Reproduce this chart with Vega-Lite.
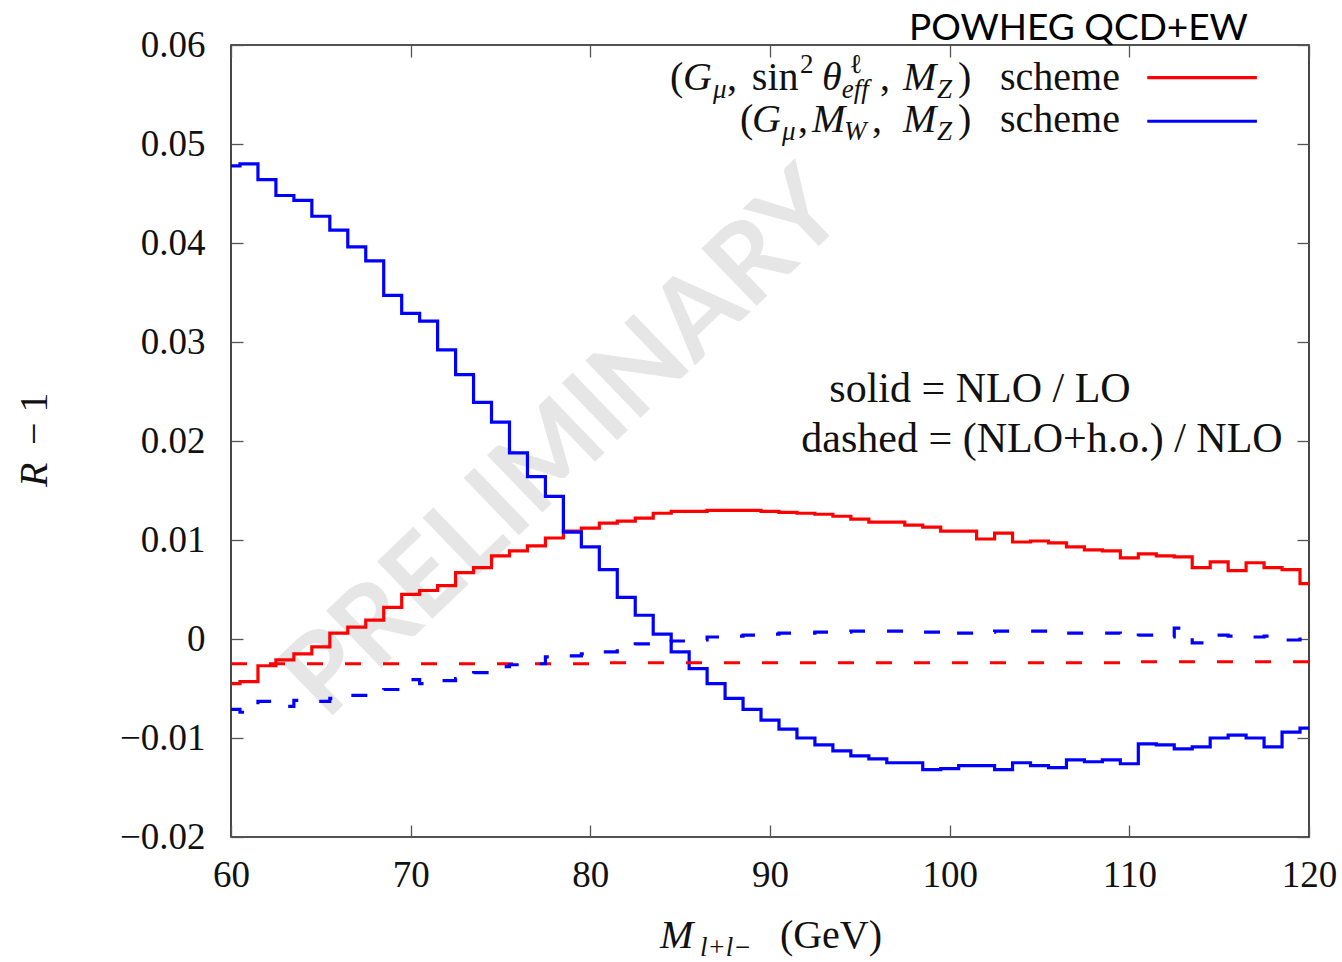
{
  "$schema": "https://vega.github.io/schema/vega-lite/v6.json",
  "width": 1078,
  "height": 792,
  "autosize": "none",
  "padding": {"left": 231, "top": 45, "right": 33, "bottom": 125},
  "background": "white",
  "config": {
    "view": {"stroke": "#1a1a1a", "strokeWidth": 1.6},
    "axis": {
      "grid": false,
      "domain": false,
      "tickColor": "#555555",
      "tickWidth": 1.3,
      "tickSize": 12,
      "offset": -12,
      "labelFont": "Liberation Serif",
      "labelFontSize": 37,
      "labelColor": "#111111",
      "labelFlush": false,
      "labelOverlap": false,
      "labelBound": false
    }
  },
  "datasets": {
    "curves": [
      {"mll":60,"dr":-0.0045,"scheme":"sw","ratio":"nlo"},{"mll":61,"dr":-0.0043,"scheme":"sw","ratio":"nlo"},{"mll":62,"dr":-0.0027,"scheme":"sw","ratio":"nlo"},{"mll":63,"dr":-0.0021,"scheme":"sw","ratio":"nlo"},{"mll":64,"dr":-0.0015,"scheme":"sw","ratio":"nlo"},{"mll":65,"dr":-0.0008,"scheme":"sw","ratio":"nlo"},{"mll":66,"dr":0.0006,"scheme":"sw","ratio":"nlo"},{"mll":67,"dr":0.0012,"scheme":"sw","ratio":"nlo"},{"mll":68,"dr":0.0019,"scheme":"sw","ratio":"nlo"},{"mll":69,"dr":0.0032,"scheme":"sw","ratio":"nlo"},
      {"mll":70,"dr":0.0045,"scheme":"sw","ratio":"nlo"},{"mll":71,"dr":0.0049,"scheme":"sw","ratio":"nlo"},{"mll":72,"dr":0.0054,"scheme":"sw","ratio":"nlo"},{"mll":73,"dr":0.0067,"scheme":"sw","ratio":"nlo"},{"mll":74,"dr":0.0072,"scheme":"sw","ratio":"nlo"},{"mll":75,"dr":0.0084,"scheme":"sw","ratio":"nlo"},{"mll":76,"dr":0.0089,"scheme":"sw","ratio":"nlo"},{"mll":77,"dr":0.0094,"scheme":"sw","ratio":"nlo"},{"mll":78,"dr":0.0102,"scheme":"sw","ratio":"nlo"},{"mll":79,"dr":0.0109,"scheme":"sw","ratio":"nlo"},
      {"mll":80,"dr":0.0112,"scheme":"sw","ratio":"nlo"},{"mll":81,"dr":0.0117,"scheme":"sw","ratio":"nlo"},{"mll":82,"dr":0.0119,"scheme":"sw","ratio":"nlo"},{"mll":83,"dr":0.0122,"scheme":"sw","ratio":"nlo"},{"mll":84,"dr":0.0127,"scheme":"sw","ratio":"nlo"},{"mll":85,"dr":0.0129,"scheme":"sw","ratio":"nlo"},{"mll":86,"dr":0.0129,"scheme":"sw","ratio":"nlo"},{"mll":87,"dr":0.0130,"scheme":"sw","ratio":"nlo"},{"mll":88,"dr":0.0130,"scheme":"sw","ratio":"nlo"},{"mll":89,"dr":0.0130,"scheme":"sw","ratio":"nlo"},
      {"mll":90,"dr":0.0129,"scheme":"sw","ratio":"nlo"},{"mll":91,"dr":0.0128,"scheme":"sw","ratio":"nlo"},{"mll":92,"dr":0.0127,"scheme":"sw","ratio":"nlo"},{"mll":93,"dr":0.0126,"scheme":"sw","ratio":"nlo"},{"mll":94,"dr":0.0124,"scheme":"sw","ratio":"nlo"},{"mll":95,"dr":0.0121,"scheme":"sw","ratio":"nlo"},{"mll":96,"dr":0.0118,"scheme":"sw","ratio":"nlo"},{"mll":97,"dr":0.0118,"scheme":"sw","ratio":"nlo"},{"mll":98,"dr":0.0115,"scheme":"sw","ratio":"nlo"},{"mll":99,"dr":0.0113,"scheme":"sw","ratio":"nlo"},
      {"mll":100,"dr":0.0109,"scheme":"sw","ratio":"nlo"},{"mll":101,"dr":0.0109,"scheme":"sw","ratio":"nlo"},{"mll":102,"dr":0.0101,"scheme":"sw","ratio":"nlo"},{"mll":103,"dr":0.0107,"scheme":"sw","ratio":"nlo"},{"mll":104,"dr":0.0098,"scheme":"sw","ratio":"nlo"},{"mll":105,"dr":0.0099,"scheme":"sw","ratio":"nlo"},{"mll":106,"dr":0.0097,"scheme":"sw","ratio":"nlo"},{"mll":107,"dr":0.0093,"scheme":"sw","ratio":"nlo"},{"mll":108,"dr":0.0090,"scheme":"sw","ratio":"nlo"},{"mll":109,"dr":0.0089,"scheme":"sw","ratio":"nlo"},
      {"mll":110,"dr":0.0082,"scheme":"sw","ratio":"nlo"},{"mll":111,"dr":0.0086,"scheme":"sw","ratio":"nlo"},{"mll":112,"dr":0.0084,"scheme":"sw","ratio":"nlo"},{"mll":113,"dr":0.0083,"scheme":"sw","ratio":"nlo"},{"mll":114,"dr":0.0072,"scheme":"sw","ratio":"nlo"},{"mll":115,"dr":0.0078,"scheme":"sw","ratio":"nlo"},{"mll":116,"dr":0.0069,"scheme":"sw","ratio":"nlo"},{"mll":117,"dr":0.0077,"scheme":"sw","ratio":"nlo"},{"mll":118,"dr":0.0072,"scheme":"sw","ratio":"nlo"},{"mll":119,"dr":0.0070,"scheme":"sw","ratio":"nlo"},
      {"mll":120,"dr":0.0056,"scheme":"sw","ratio":"nlo"},

      {"mll":60,"dr":0.0478,"scheme":"mw","ratio":"nlo"},{"mll":61,"dr":0.0480,"scheme":"mw","ratio":"nlo"},{"mll":62,"dr":0.0464,"scheme":"mw","ratio":"nlo"},{"mll":63,"dr":0.0448,"scheme":"mw","ratio":"nlo"},{"mll":64,"dr":0.0443,"scheme":"mw","ratio":"nlo"},{"mll":65,"dr":0.0427,"scheme":"mw","ratio":"nlo"},{"mll":66,"dr":0.0413,"scheme":"mw","ratio":"nlo"},{"mll":67,"dr":0.0396,"scheme":"mw","ratio":"nlo"},{"mll":68,"dr":0.0382,"scheme":"mw","ratio":"nlo"},{"mll":69,"dr":0.0347,"scheme":"mw","ratio":"nlo"},
      {"mll":70,"dr":0.0329,"scheme":"mw","ratio":"nlo"},{"mll":71,"dr":0.0321,"scheme":"mw","ratio":"nlo"},{"mll":72,"dr":0.0292,"scheme":"mw","ratio":"nlo"},{"mll":73,"dr":0.0267,"scheme":"mw","ratio":"nlo"},{"mll":74,"dr":0.0239,"scheme":"mw","ratio":"nlo"},{"mll":75,"dr":0.0219,"scheme":"mw","ratio":"nlo"},{"mll":76,"dr":0.0188,"scheme":"mw","ratio":"nlo"},{"mll":77,"dr":0.0164,"scheme":"mw","ratio":"nlo"},{"mll":78,"dr":0.0144,"scheme":"mw","ratio":"nlo"},{"mll":79,"dr":0.0108,"scheme":"mw","ratio":"nlo"},
      {"mll":80,"dr":0.0093,"scheme":"mw","ratio":"nlo"},{"mll":81,"dr":0.0070,"scheme":"mw","ratio":"nlo"},{"mll":82,"dr":0.0042,"scheme":"mw","ratio":"nlo"},{"mll":83,"dr":0.0024,"scheme":"mw","ratio":"nlo"},{"mll":84,"dr":0.0005,"scheme":"mw","ratio":"nlo"},{"mll":85,"dr":-0.0013,"scheme":"mw","ratio":"nlo"},{"mll":86,"dr":-0.0030,"scheme":"mw","ratio":"nlo"},{"mll":87,"dr":-0.0045,"scheme":"mw","ratio":"nlo"},{"mll":88,"dr":-0.0060,"scheme":"mw","ratio":"nlo"},{"mll":89,"dr":-0.0071,"scheme":"mw","ratio":"nlo"},
      {"mll":90,"dr":-0.0082,"scheme":"mw","ratio":"nlo"},{"mll":91,"dr":-0.0091,"scheme":"mw","ratio":"nlo"},{"mll":92,"dr":-0.0100,"scheme":"mw","ratio":"nlo"},{"mll":93,"dr":-0.0107,"scheme":"mw","ratio":"nlo"},{"mll":94,"dr":-0.0113,"scheme":"mw","ratio":"nlo"},{"mll":95,"dr":-0.0118,"scheme":"mw","ratio":"nlo"},{"mll":96,"dr":-0.0121,"scheme":"mw","ratio":"nlo"},{"mll":97,"dr":-0.0125,"scheme":"mw","ratio":"nlo"},{"mll":98,"dr":-0.0125,"scheme":"mw","ratio":"nlo"},{"mll":99,"dr":-0.0132,"scheme":"mw","ratio":"nlo"},
      {"mll":100,"dr":-0.0131,"scheme":"mw","ratio":"nlo"},{"mll":101,"dr":-0.0128,"scheme":"mw","ratio":"nlo"},{"mll":102,"dr":-0.0128,"scheme":"mw","ratio":"nlo"},{"mll":103,"dr":-0.0132,"scheme":"mw","ratio":"nlo"},{"mll":104,"dr":-0.0125,"scheme":"mw","ratio":"nlo"},{"mll":105,"dr":-0.0128,"scheme":"mw","ratio":"nlo"},{"mll":106,"dr":-0.0130,"scheme":"mw","ratio":"nlo"},{"mll":107,"dr":-0.0122,"scheme":"mw","ratio":"nlo"},{"mll":108,"dr":-0.0124,"scheme":"mw","ratio":"nlo"},{"mll":109,"dr":-0.0122,"scheme":"mw","ratio":"nlo"},
      {"mll":110,"dr":-0.0126,"scheme":"mw","ratio":"nlo"},{"mll":111,"dr":-0.0106,"scheme":"mw","ratio":"nlo"},{"mll":112,"dr":-0.0107,"scheme":"mw","ratio":"nlo"},{"mll":113,"dr":-0.0111,"scheme":"mw","ratio":"nlo"},{"mll":114,"dr":-0.0109,"scheme":"mw","ratio":"nlo"},{"mll":115,"dr":-0.0100,"scheme":"mw","ratio":"nlo"},{"mll":116,"dr":-0.0097,"scheme":"mw","ratio":"nlo"},{"mll":117,"dr":-0.0100,"scheme":"mw","ratio":"nlo"},{"mll":118,"dr":-0.0109,"scheme":"mw","ratio":"nlo"},{"mll":119,"dr":-0.0094,"scheme":"mw","ratio":"nlo"},
      {"mll":120,"dr":-0.0090,"scheme":"mw","ratio":"nlo"},

      {"mll":60,"dr":-0.0025,"scheme":"sw","ratio":"ho"},{"mll":61,"dr":-0.0025,"scheme":"sw","ratio":"ho"},{"mll":62,"dr":-0.0025,"scheme":"sw","ratio":"ho"},{"mll":63,"dr":-0.0025,"scheme":"sw","ratio":"ho"},{"mll":64,"dr":-0.0025,"scheme":"sw","ratio":"ho"},{"mll":65,"dr":-0.0025,"scheme":"sw","ratio":"ho"},{"mll":66,"dr":-0.0025,"scheme":"sw","ratio":"ho"},{"mll":67,"dr":-0.0025,"scheme":"sw","ratio":"ho"},{"mll":68,"dr":-0.0025,"scheme":"sw","ratio":"ho"},{"mll":69,"dr":-0.0025,"scheme":"sw","ratio":"ho"},
      {"mll":70,"dr":-0.0025,"scheme":"sw","ratio":"ho"},{"mll":71,"dr":-0.0025,"scheme":"sw","ratio":"ho"},{"mll":72,"dr":-0.0025,"scheme":"sw","ratio":"ho"},{"mll":73,"dr":-0.0025,"scheme":"sw","ratio":"ho"},{"mll":74,"dr":-0.0025,"scheme":"sw","ratio":"ho"},{"mll":75,"dr":-0.0025,"scheme":"sw","ratio":"ho"},{"mll":76,"dr":-0.0025,"scheme":"sw","ratio":"ho"},{"mll":77,"dr":-0.0025,"scheme":"sw","ratio":"ho"},{"mll":78,"dr":-0.0025,"scheme":"sw","ratio":"ho"},{"mll":79,"dr":-0.0025,"scheme":"sw","ratio":"ho"},
      {"mll":80,"dr":-0.0025,"scheme":"sw","ratio":"ho"},{"mll":81,"dr":-0.0024,"scheme":"sw","ratio":"ho"},{"mll":82,"dr":-0.0024,"scheme":"sw","ratio":"ho"},{"mll":83,"dr":-0.0024,"scheme":"sw","ratio":"ho"},{"mll":84,"dr":-0.0024,"scheme":"sw","ratio":"ho"},{"mll":85,"dr":-0.0024,"scheme":"sw","ratio":"ho"},{"mll":86,"dr":-0.0024,"scheme":"sw","ratio":"ho"},{"mll":87,"dr":-0.0024,"scheme":"sw","ratio":"ho"},{"mll":88,"dr":-0.0024,"scheme":"sw","ratio":"ho"},{"mll":89,"dr":-0.0024,"scheme":"sw","ratio":"ho"},
      {"mll":90,"dr":-0.0024,"scheme":"sw","ratio":"ho"},{"mll":91,"dr":-0.0024,"scheme":"sw","ratio":"ho"},{"mll":92,"dr":-0.0024,"scheme":"sw","ratio":"ho"},{"mll":93,"dr":-0.0024,"scheme":"sw","ratio":"ho"},{"mll":94,"dr":-0.0024,"scheme":"sw","ratio":"ho"},{"mll":95,"dr":-0.0024,"scheme":"sw","ratio":"ho"},{"mll":96,"dr":-0.0024,"scheme":"sw","ratio":"ho"},{"mll":97,"dr":-0.0024,"scheme":"sw","ratio":"ho"},{"mll":98,"dr":-0.0024,"scheme":"sw","ratio":"ho"},{"mll":99,"dr":-0.0024,"scheme":"sw","ratio":"ho"},
      {"mll":100,"dr":-0.0024,"scheme":"sw","ratio":"ho"},{"mll":101,"dr":-0.0024,"scheme":"sw","ratio":"ho"},{"mll":102,"dr":-0.0024,"scheme":"sw","ratio":"ho"},{"mll":103,"dr":-0.0024,"scheme":"sw","ratio":"ho"},{"mll":104,"dr":-0.0024,"scheme":"sw","ratio":"ho"},{"mll":105,"dr":-0.0024,"scheme":"sw","ratio":"ho"},{"mll":106,"dr":-0.0024,"scheme":"sw","ratio":"ho"},{"mll":107,"dr":-0.0024,"scheme":"sw","ratio":"ho"},{"mll":108,"dr":-0.0024,"scheme":"sw","ratio":"ho"},{"mll":109,"dr":-0.0024,"scheme":"sw","ratio":"ho"},
      {"mll":110,"dr":-0.0024,"scheme":"sw","ratio":"ho"},{"mll":111,"dr":-0.0023,"scheme":"sw","ratio":"ho"},{"mll":112,"dr":-0.0023,"scheme":"sw","ratio":"ho"},{"mll":113,"dr":-0.0023,"scheme":"sw","ratio":"ho"},{"mll":114,"dr":-0.0023,"scheme":"sw","ratio":"ho"},{"mll":115,"dr":-0.0023,"scheme":"sw","ratio":"ho"},{"mll":116,"dr":-0.0023,"scheme":"sw","ratio":"ho"},{"mll":117,"dr":-0.0023,"scheme":"sw","ratio":"ho"},{"mll":118,"dr":-0.0023,"scheme":"sw","ratio":"ho"},{"mll":119,"dr":-0.0023,"scheme":"sw","ratio":"ho"},
      {"mll":120,"dr":-0.0023,"scheme":"sw","ratio":"ho"},

      {"mll":60,"dr":-0.0071,"scheme":"mw","ratio":"ho"},{"mll":61,"dr":-0.0074,"scheme":"mw","ratio":"ho"},{"mll":62,"dr":-0.0063,"scheme":"mw","ratio":"ho"},{"mll":63,"dr":-0.0068,"scheme":"mw","ratio":"ho"},{"mll":64,"dr":-0.0062,"scheme":"mw","ratio":"ho"},{"mll":65,"dr":-0.0063,"scheme":"mw","ratio":"ho"},{"mll":66,"dr":-0.0060,"scheme":"mw","ratio":"ho"},{"mll":67,"dr":-0.0057,"scheme":"mw","ratio":"ho"},{"mll":68,"dr":-0.0054,"scheme":"mw","ratio":"ho"},{"mll":69,"dr":-0.0051,"scheme":"mw","ratio":"ho"},
      {"mll":70,"dr":-0.0041,"scheme":"mw","ratio":"ho"},{"mll":71,"dr":-0.0045,"scheme":"mw","ratio":"ho"},{"mll":72,"dr":-0.0042,"scheme":"mw","ratio":"ho"},{"mll":73,"dr":-0.0040,"scheme":"mw","ratio":"ho"},{"mll":74,"dr":-0.0034,"scheme":"mw","ratio":"ho"},{"mll":75,"dr":-0.0028,"scheme":"mw","ratio":"ho"},{"mll":76,"dr":-0.0026,"scheme":"mw","ratio":"ho"},{"mll":77,"dr":-0.0025,"scheme":"mw","ratio":"ho"},{"mll":78,"dr":-0.0018,"scheme":"mw","ratio":"ho"},{"mll":79,"dr":-0.0017,"scheme":"mw","ratio":"ho"},
      {"mll":80,"dr":-0.0015,"scheme":"mw","ratio":"ho"},{"mll":81,"dr":-0.0013,"scheme":"mw","ratio":"ho"},{"mll":82,"dr":-0.0008,"scheme":"mw","ratio":"ho"},{"mll":83,"dr":-0.0005,"scheme":"mw","ratio":"ho"},{"mll":84,"dr":-0.0003,"scheme":"mw","ratio":"ho"},{"mll":85,"dr":-0.0002,"scheme":"mw","ratio":"ho"},{"mll":86,"dr":-0.0001,"scheme":"mw","ratio":"ho"},{"mll":87,"dr":0.0002,"scheme":"mw","ratio":"ho"},{"mll":88,"dr":0.0003,"scheme":"mw","ratio":"ho"},{"mll":89,"dr":0.0004,"scheme":"mw","ratio":"ho"},
      {"mll":90,"dr":0.0005,"scheme":"mw","ratio":"ho"},{"mll":91,"dr":0.0006,"scheme":"mw","ratio":"ho"},{"mll":92,"dr":0.0006,"scheme":"mw","ratio":"ho"},{"mll":93,"dr":0.0007,"scheme":"mw","ratio":"ho"},{"mll":94,"dr":0.0007,"scheme":"mw","ratio":"ho"},{"mll":95,"dr":0.0008,"scheme":"mw","ratio":"ho"},{"mll":96,"dr":0.0008,"scheme":"mw","ratio":"ho"},{"mll":97,"dr":0.0008,"scheme":"mw","ratio":"ho"},{"mll":98,"dr":0.0008,"scheme":"mw","ratio":"ho"},{"mll":99,"dr":0.0007,"scheme":"mw","ratio":"ho"},
      {"mll":100,"dr":0.0009,"scheme":"mw","ratio":"ho"},{"mll":101,"dr":0.0006,"scheme":"mw","ratio":"ho"},{"mll":102,"dr":0.0007,"scheme":"mw","ratio":"ho"},{"mll":103,"dr":0.0008,"scheme":"mw","ratio":"ho"},{"mll":104,"dr":0.0008,"scheme":"mw","ratio":"ho"},{"mll":105,"dr":0.0008,"scheme":"mw","ratio":"ho"},{"mll":106,"dr":0.0006,"scheme":"mw","ratio":"ho"},{"mll":107,"dr":0.0006,"scheme":"mw","ratio":"ho"},{"mll":108,"dr":0.0006,"scheme":"mw","ratio":"ho"},{"mll":109,"dr":0.0006,"scheme":"mw","ratio":"ho"},
      {"mll":110,"dr":0.0002,"scheme":"mw","ratio":"ho"},{"mll":111,"dr":0.0004,"scheme":"mw","ratio":"ho"},{"mll":112,"dr":0.0002,"scheme":"mw","ratio":"ho"},{"mll":113,"dr":0.0011,"scheme":"mw","ratio":"ho"},{"mll":114,"dr":-0.0004,"scheme":"mw","ratio":"ho"},{"mll":115,"dr":0.0004,"scheme":"mw","ratio":"ho"},{"mll":116,"dr":0.0003,"scheme":"mw","ratio":"ho"},{"mll":117,"dr":0.0002,"scheme":"mw","ratio":"ho"},{"mll":118,"dr":0.0003,"scheme":"mw","ratio":"ho"},{"mll":119,"dr":-0.0001,"scheme":"mw","ratio":"ho"},
      {"mll":120,"dr":0.0000,"scheme":"mw","ratio":"ho"}
    ],
    "mathUpright": [
      {"x":84.43,"y":0.05545,"t":"("},
      {"x":87.61,"y":0.05545,"t":","},
      {"x":88.99,"y":0.05545,"t":"sin"},
      {"x":96.12,"y":0.05545,"t":","},
      {"x":100.46,"y":0.05545,"t":")"},
      {"x":102.80,"y":0.05545,"t":"scheme"},
      {"x":88.33,"y":0.05121,"t":"("},
      {"x":91.56,"y":0.05121,"t":","},
      {"x":95.68,"y":0.05121,"t":","},
      {"x":100.46,"y":0.05121,"t":")"},
      {"x":102.80,"y":0.05121,"t":"scheme"},
      {"x":90.55,"y":-0.03121,"t":"(GeV)"}
    ],
    "mathItalic": [
      {"x":85.16,"y":0.05545,"t":"G"},
      {"x":92.89,"y":0.05545,"t":"θ"},
      {"x":97.40,"y":0.05545,"t":"M"},
      {"x":89.00,"y":0.05121,"t":"G"},
      {"x":92.34,"y":0.05121,"t":"M"},
      {"x":97.40,"y":0.05121,"t":"M"},
      {"x":83.88,"y":-0.03121,"t":"M"}
    ],
    "mathSub": [
      {"x":86.83,"y":0.05545,"t":"μ"},
      {"x":94.00,"y":0.05545,"t":"eff"},
      {"x":99.29,"y":0.05545,"t":"Z"},
      {"x":90.67,"y":0.05121,"t":"μ"},
      {"x":94.12,"y":0.05121,"t":"W"},
      {"x":99.29,"y":0.05121,"t":"Z"},
      {"x":86.10,"y":-0.03121,"t":"l+l−"}
    ],
    "mathSup": [
      {"x":91.67,"y":0.05545,"t":"2"},
      {"x":94.42,"y":0.05545,"t":"ℓ"}
    ],
    "notes": [
      {"x":101.69,"y":0.02394,"t":"solid = NLO / LO"},
      {"x":105.14,"y":0.01889,"t":"dashed = (NLO+h.o.) / NLO"}
    ]
  },
  "layer": [
    {
      "data": {"values": [{"x": 78.59, "y": 0.0196, "t": "PRELIMINARY"}]},
      "mark": {"type": "text", "font": "Lato", "fontWeight": "bold", "fontSize": 110, "angle": -44, "align": "center", "baseline": "middle", "color": "#e6e6e6"},
      "encoding": {
        "x": {"field": "x", "type": "quantitative", "scale": {"domain": [60, 120], "nice": false, "zero": false}, "axis": null},
        "y": {"field": "y", "type": "quantitative", "scale": {"domain": [-0.02, 0.06], "nice": false, "zero": false}, "axis": null},
        "text": {"field": "t"}
      }
    },
    {
      "data": {"name": "curves"},
      "mark": {"type": "line", "interpolate": "step", "strokeWidth": 3.2, "strokeCap": "butt", "strokeJoin": "miter"},
      "encoding": {
        "x": {"field": "mll", "type": "quantitative", "scale": {"domain": [60, 120], "nice": false, "zero": false},
              "axis": {"orient": "bottom", "values": [60, 70, 80, 90, 100, 110, 120], "title": null, "labelPadding": 20}},
        "y": {"field": "dr", "type": "quantitative", "scale": {"domain": [-0.02, 0.06], "nice": false, "zero": false},
              "axis": {"orient": "left", "values": [-0.02, -0.01, 0, 0.01, 0.02, 0.03, 0.04, 0.05, 0.06], "title": null, "labelPadding": 26,
                       "labelExpr": "datum.value === 0 ? '0' : replace(format(datum.value, '.2f'), '-', '−')"}},
        "color": {"field": "scheme", "type": "nominal", "scale": {"domain": ["sw", "mw"], "range": ["#ff0000", "#0000ff"]}, "legend": null},
        "strokeDash": {"field": "ratio", "type": "nominal", "scale": {"domain": ["nlo", "ho"], "range": [[1, 0], [16, 22]]}, "legend": null}
      }
    },
    {
      "data": {"name": "curves"},
      "mark": {"type": "point", "opacity": 0},
      "encoding": {
        "x": {"field": "mll", "type": "quantitative", "scale": {"domain": [60, 120], "nice": false, "zero": false},
              "axis": {"orient": "top", "values": [60, 70, 80, 90, 100, 110, 120], "labels": false, "title": null}},
        "y": {"field": "dr", "type": "quantitative", "scale": {"domain": [-0.02, 0.06], "nice": false, "zero": false},
              "axis": {"orient": "right", "values": [-0.02, -0.01, 0, 0.01, 0.02, 0.03, 0.04, 0.05, 0.06], "labels": false, "title": null}}
      }
    },
    {
      "data": {"values": [{}]},
      "mark": {"type": "rule", "color": "#ff0000", "strokeWidth": 3.2},
      "encoding": {
        "x": {"datum": 111.0, "type": "quantitative", "scale": {"domain": [60, 120], "nice": false, "zero": false}, "axis": null},
        "x2": {"datum": 117.1},
        "y": {"datum": 0.0567, "type": "quantitative", "scale": {"domain": [-0.02, 0.06], "nice": false, "zero": false}, "axis": null}
      }
    },
    {
      "data": {"values": [{}]},
      "mark": {"type": "rule", "color": "#0000ff", "strokeWidth": 3.2},
      "encoding": {
        "x": {"datum": 111.0, "type": "quantitative", "scale": {"domain": [60, 120], "nice": false, "zero": false}, "axis": null},
        "x2": {"datum": 117.1},
        "y": {"datum": 0.0523, "type": "quantitative", "scale": {"domain": [-0.02, 0.06], "nice": false, "zero": false}, "axis": null}
      }
    },
    {
      "data": {"name": "mathUpright"},
      "mark": {"type": "text", "font": "Liberation Serif", "fontSize": 40, "align": "left", "baseline": "alphabetic", "color": "#111111"},
      "encoding": {
        "x": {"field": "x", "type": "quantitative", "scale": {"domain": [60, 120], "nice": false, "zero": false}, "axis": null},
        "y": {"field": "y", "type": "quantitative", "scale": {"domain": [-0.02, 0.06], "nice": false, "zero": false}, "axis": null},
        "text": {"field": "t"}
      }
    },
    {
      "data": {"name": "mathItalic"},
      "mark": {"type": "text", "font": "Liberation Serif", "fontStyle": "italic", "fontSize": 40, "align": "left", "baseline": "alphabetic", "color": "#111111"},
      "encoding": {
        "x": {"field": "x", "type": "quantitative", "scale": {"domain": [60, 120], "nice": false, "zero": false}, "axis": null},
        "y": {"field": "y", "type": "quantitative", "scale": {"domain": [-0.02, 0.06], "nice": false, "zero": false}, "axis": null},
        "text": {"field": "t"}
      }
    },
    {
      "data": {"name": "mathSub"},
      "mark": {"type": "text", "font": "Liberation Serif", "fontStyle": "italic", "fontSize": 27, "dy": 8, "align": "left", "baseline": "alphabetic", "color": "#111111"},
      "encoding": {
        "x": {"field": "x", "type": "quantitative", "scale": {"domain": [60, 120], "nice": false, "zero": false}, "axis": null},
        "y": {"field": "y", "type": "quantitative", "scale": {"domain": [-0.02, 0.06], "nice": false, "zero": false}, "axis": null},
        "text": {"field": "t"}
      }
    },
    {
      "data": {"name": "mathSup"},
      "mark": {"type": "text", "font": "Liberation Serif", "fontSize": 27, "dy": -17, "align": "left", "baseline": "alphabetic", "color": "#111111"},
      "encoding": {
        "x": {"field": "x", "type": "quantitative", "scale": {"domain": [60, 120], "nice": false, "zero": false}, "axis": null},
        "y": {"field": "y", "type": "quantitative", "scale": {"domain": [-0.02, 0.06], "nice": false, "zero": false}, "axis": null},
        "text": {"field": "t"}
      }
    },
    {
      "data": {"name": "notes"},
      "mark": {"type": "text", "font": "Liberation Serif", "fontSize": 42, "align": "center", "baseline": "alphabetic", "color": "#111111"},
      "encoding": {
        "x": {"field": "x", "type": "quantitative", "scale": {"domain": [60, 120], "nice": false, "zero": false}, "axis": null},
        "y": {"field": "y", "type": "quantitative", "scale": {"domain": [-0.02, 0.06], "nice": false, "zero": false}, "axis": null},
        "text": {"field": "t"}
      }
    },
    {
      "data": {"values": [{"x": 116.6, "y": 0.0605, "t": "POWHEG QCD+EW"}]},
      "mark": {"type": "text", "font": "Lato", "fontSize": 37, "align": "right", "baseline": "alphabetic", "color": "#000000"},
      "encoding": {
        "x": {"field": "x", "type": "quantitative", "scale": {"domain": [60, 120], "nice": false, "zero": false}, "axis": null},
        "y": {"field": "y", "type": "quantitative", "scale": {"domain": [-0.02, 0.06], "nice": false, "zero": false}, "axis": null},
        "text": {"field": "t"}
      }
    },
    {
      "data": {"values": [{"x": 49.76, "y": 0.01535, "t": "R"}]},
      "mark": {"type": "text", "font": "Liberation Serif", "fontStyle": "italic", "fontSize": 40, "angle": -90, "align": "left", "baseline": "alphabetic", "color": "#111111"},
      "encoding": {
        "x": {"field": "x", "type": "quantitative", "scale": {"domain": [60, 120], "nice": false, "zero": false}, "axis": null},
        "y": {"field": "y", "type": "quantitative", "scale": {"domain": [-0.02, 0.06], "nice": false, "zero": false}, "axis": null},
        "text": {"field": "t"}
      }
    },
    {
      "data": {"values": [{"x": 49.76, "y": 0.0196, "t": "− 1"}]},
      "mark": {"type": "text", "font": "Liberation Serif", "fontSize": 40, "angle": -90, "align": "left", "baseline": "alphabetic", "color": "#111111"},
      "encoding": {
        "x": {"field": "x", "type": "quantitative", "scale": {"domain": [60, 120], "nice": false, "zero": false}, "axis": null},
        "y": {"field": "y", "type": "quantitative", "scale": {"domain": [-0.02, 0.06], "nice": false, "zero": false}, "axis": null},
        "text": {"field": "t"}
      }
    }
  ],
  "resolve": {"axis": {"x": "independent", "y": "independent"}}
}
